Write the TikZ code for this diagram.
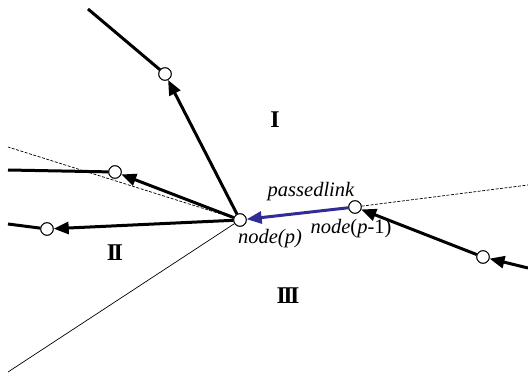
\documentclass[tikz,border=0pt]{standalone}
\usepackage{fontspec}
\setmainfont{Liberation Serif}
\usetikzlibrary{arrows.meta}
\definecolor{linkblue}{RGB}{50,45,150}
\newcommand{\romtwo}{I\kern-2.6pt I}
\newcommand{\romthree}{I\kern-2.6pt I\kern-2.6pt I}
\tikzset{
  dot/.style={circle,draw=black,fill=white,line width=0.9pt,minimum size=12.5pt,inner sep=0pt},
  thick link/.style={line width=3pt,-{Triangle[length=15pt,width=12pt]}},
  plain link/.style={line width=3pt},
  blue link/.style={line width=3pt,draw=linkblue,-{Triangle[length=15pt,width=12pt,fill=linkblue]}},
  guide/.style={line width=0.7pt},
  guide dashed/.style={line width=0.7pt,dash pattern=on 3pt off 1.5pt},
  lbl/.style={font=\fontsize{20.5}{20.5}\selectfont\itshape,inner sep=0pt},
  region/.style={font=\fontsize{24}{24}\selectfont\bfseries,inner sep=0pt}
}
\begin{document}
\begin{tikzpicture}[x=1pt,y=-1pt]
\useasboundingbox (0,0) rectangle (528,374);
% nodes
\node[dot] (P) at (240,220) {};
\node[dot] (Q) at (355,207) {};
\node[dot] (R) at (483,257) {};
\node[dot] (A) at (165,74) {};
\node[dot] (B) at (115,172) {};
\node[dot] (C) at (47,229) {};
% free ends
\coordinate (rin) at (528,268);
\coordinate (a0) at (88,9);
\coordinate (b0) at (8,170);
\coordinate (c0) at (8,224);
\coordinate (d1) at (8,147);
\coordinate (d2) at (8,372);
\coordinate (d3) at (528,185);
% guide lines
\draw[guide dashed] (P) -- (d1);
\draw[guide] (P) -- (d2);
\draw[guide dashed] (Q) -- (d3);
% links
\draw[plain link] (A) -- (a0);
\draw[plain link] (B) -- (b0);
\draw[plain link] (C) -- (c0);
\draw[thick link] (P) -- (A);
\draw[thick link] (P) -- (B);
\draw[thick link] (P) -- (C);
\draw[thick link] (rin) -- (R);
\draw[thick link] (R) -- (Q);
\draw[blue link] (Q) -- (P);
% redraw circles on top
\node[dot] at (P) {};
\node[dot] at (Q) {};
\node[dot] at (R) {};
\node[dot] at (A) {};
\node[dot] at (B) {};
\node[dot] at (C) {};
% labels
\node[lbl] (tpl) at (311,192) {passedlink};
\node[lbl] (tnp) at (270,239) {node(p)};
\node[lbl] (tnq) at (351,229) {node\textup{(}p\textup{-1)}};
\node[region] (r1) at (275,120) {I};
\node[region] (r2) at (115,252.5) {\romtwo};
\node[region] (r3) at (288,296) {\romthree};
\end{tikzpicture}
\end{document}
